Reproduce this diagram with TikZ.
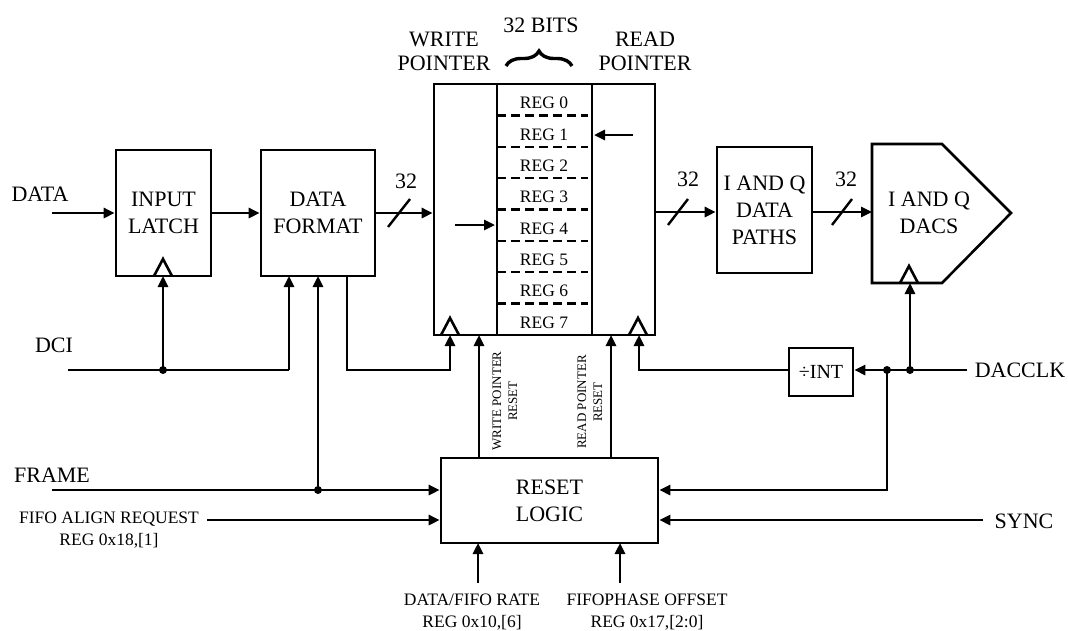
\documentclass[tikz,border=0pt]{standalone}
\usepackage{fontspec}
\setmainfont{Liberation Serif}
\usetikzlibrary{arrows.meta,decorations.pathreplacing}
\begin{document}
\begin{tikzpicture}[x=1pt,y=-1pt, line width=2.6pt, line join=miter,
  arr/.style={-{Triangle[length=11pt,width=10pt]}},
  box/.style={draw, rectangle, inner sep=0pt, align=center, font=\fontsize{22}{27}\selectfont},
  lbl/.style={font=\fontsize{22}{24}\selectfont, align=center, inner sep=0pt},
  sml/.style={font=\fontsize{17.5}{22}\selectfont, align=center, inner sep=0pt},
  rot/.style={font=\fontsize{13}{16}\selectfont, align=center, inner sep=0pt, rotate=90},
  dot/.style={circle, fill, inner sep=0pt, minimum size=8pt},
  regdash/.style={line width=2.4pt, dash pattern=on 9pt off 5pt},
  bus/.style={line width=2.4pt},
]
\useasboundingbox[fill=white] (0,0) rectangle (1068,630);

% ---------- boxes ----------
\node[box, minimum width=95pt, minimum height=126pt] (latch) at (163.5,213) {INPUT\\LATCH};
\node[box, minimum width=114pt, minimum height=126pt] (fmt) at (318,213) {DATA\\FORMAT};
\node[draw, rectangle, inner sep=0pt, minimum width=221pt, minimum height=251pt] (fifo) at (544.5,209.5) {};
\node[box, minimum width=95pt, minimum height=126pt] (paths) at (764.5,210) {I AND Q\\DATA\\PATHS};
\node[box, minimum width=64pt, minimum height=48pt, font=\fontsize{20}{24}\selectfont] (int) at (821,372) {÷INT};
\node[box, minimum width=217pt, minimum height=85pt] (reset) at (549.5,500.5) {RESET\\LOGIC};
\draw (872,144) -- (942,144) -- (1011,213) -- (942,283) -- (872,283) -- cycle;
\node[lbl, font=\fontsize{22}{27}\selectfont] (dacs) at (929,213) {I AND Q\\DACS};
\coordinate (dacl) at (872,212);

% ---------- FIFO interior ----------
\coordinate (c1t) at (497,84); \coordinate (c1b) at (497,335);
\coordinate (c2t) at (592,84); \coordinate (c2b) at (592,335);
\draw (c1t) -- (c1b);
\draw (c2t) -- (c2b);
\foreach \i in {1,...,7}{
  \draw[regdash] (497,84+\i*31.375) -- (588,84+\i*31.375);
}
\foreach \i in {0,...,7}{
  \node[sml] (reg\i) at (544,84+\i*31.375+19) {REG \i};
}
\coordinate (wpa) at (455,225); \coordinate (wpb) at (495,225);
\draw[arr] (wpa) -- (wpb);
\coordinate (rpa) at (633,135); \coordinate (rpb) at (594,135);
\draw[arr] (rpa) -- (rpb);

% clock triangles
\draw (154,276) -- (163,259) -- (172,276);
\draw (441,335) -- (450,318) -- (459,335);
\draw (629,335) -- (638,318) -- (647,335);
\draw (900,283) -- (909,266) -- (918,283);

% ---------- labels ----------
\node[lbl] (bits) at (541,25) {32 BITS};
\draw[decorate, decoration={brace, amplitude=15pt, raise=0pt}, line width=3.4pt] (506,66) -- (572,66);
\node[lbl] (wplbl) at (444,51) {WRITE\\POINTER};
\node[lbl] (rplbl) at (645,51) {READ\\POINTER};
\node[lbl] (datalbl) at (40,194) {DATA};
\node[lbl] (dcilbl) at (54,345) {DCI};
\node[lbl] (framelbl) at (52,475) {FRAME};
\node[sml] (alignlbl) at (109,530) {FIFO ALIGN REQUEST\\REG 0x18,[1]};
\node[sml] (ratelbl) at (472,612) {DATA/FIFO RATE\\REG 0x10,[6]};
\node[sml] (phaselbl) at (647,612) {FIFOPHASE OFFSET\\REG 0x17,[2:0]};
\node[lbl] (dacclklbl) at (1020,370) {DACCLK};
\node[lbl] (synclbl) at (1024,521) {SYNC};
\node[rot] (wprlbl) at (505,401) {WRITE POINTER\\RESET};
\node[rot] (rprlbl) at (590,402) {READ POINTER\\RESET};
\node[lbl] (n32a) at (406,181) {32};
\node[lbl] (n32b) at (688,179) {32};
\node[lbl] (n32c) at (846,179) {32};

% ---------- data path ----------
\coordinate (datain) at (52,213);
\draw[arr] (datain) -- (latch.west);
\draw[arr] (latch.east) -- (fmt.west);
\draw[arr] (fmt.east) -- (fifo.west |- fmt.east);
\draw[bus] (388,227) -- (410,199);
\coordinate (fifoout) at (655,212);
\draw[arr] (fifoout) -- (paths.west |- fifoout);
\draw[bus] (668,225) -- (688,199);
\draw[arr] (paths.east |- fifoout) -- (dacl);
\draw[bus] (832,225) -- (852,199);

% ---------- DCI ----------
\coordinate (dci) at (68,370);
\coordinate (dcij) at (163,370);
\coordinate (dcie) at (289,370);
\draw (dci) -- (dcie);
\node[dot] (dcidot) at (dcij) {};
\draw[arr] (dcij) -- (163,276);
\draw[arr] (dcie) -- (289,276);

% ---------- FRAME ----------
\coordinate (frame) at (52,490);
\coordinate (framej) at (318,490);
\draw[arr] (frame) -- (reset.west |- frame);
\node[dot] (framedot) at (framej) {};
\draw[arr] (framej) -- (318,276);

% ---------- FIFO ALIGN ----------
\coordinate (align) at (207,520);
\draw[arr] (align) -- (reset.west |- align);

% ---------- write clock ----------
\coordinate (wclk) at (450,370);
\draw[arr] (347,276) -- (347,370) -- (wclk) -- (450,335);

% ---------- pointer resets ----------
\draw[arr] (479,458) -- (479,335);
\draw[arr] (611,458) -- (611,335);

% ---------- read clock ----------
\coordinate (rclk) at (639,370);
\draw[arr] (int.west |- rclk) -- (rclk) -- (639,335);

% ---------- DACCLK ----------
\coordinate (dacclk) at (967,370);
\coordinate (dj1) at (887,370);
\coordinate (dj2) at (910,370);
\draw[arr] (dacclk) -- (int.east |- dacclk);
\node[dot] (d1) at (dj1) {};
\node[dot] (d2) at (dj2) {};
\draw[arr] (dj2) -- (910,283);
\draw[arr] (dj1) -- (887,490) -- (reset.east |- 0,490);

% ---------- SYNC ----------
\coordinate (sync) at (983,520);
\draw[arr] (sync) -- (reset.east |- sync);

% ---------- bottom inputs ----------
\draw[arr] (478,583) -- (478,543);
\draw[arr] (620,583) -- (620,543);
\end{tikzpicture}
\end{document}
